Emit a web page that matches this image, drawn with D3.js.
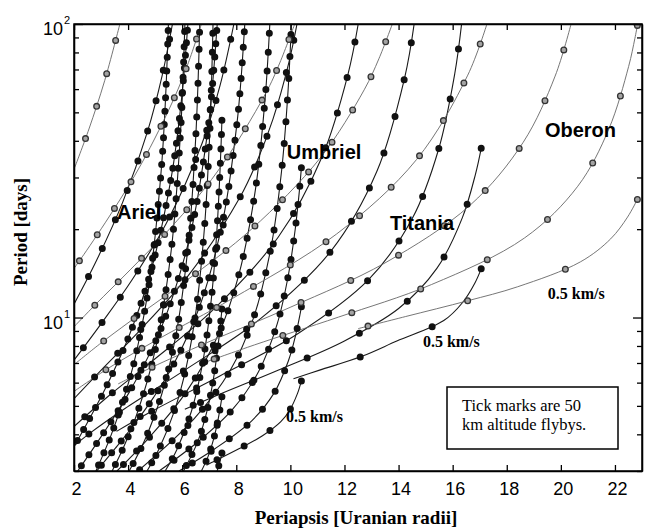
<!DOCTYPE html>
<html>
<head>
<meta charset="utf-8">
<script src="https://cdn.jsdelivr.net/npm/d3@7"></script>
<style>
  body { margin: 0; background: #fff; }
  .tick text { font-family: "Liberation Sans", Arial, Helvetica, sans-serif; font-size: 18px; fill: #000; }
  .axis path, .axis line { stroke: #000; stroke-width: 1.3; }
</style>
</head>
<body>
<svg id="chart"></svg>
<script>
// Flyby speeds (km/s), one curve per speed for every moon
var vInf = [0.5, 1, 1.5, 2, 2.5, 3, 3.5, 4];

// Axis ticks
var xTicks = [2, 4, 6, 8, 10, 12, 14, 16, 18, 20, 22];
var yMinor = [3, 4, 5, 6, 7, 8, 9, 20, 30, 40, 50, 60, 70, 80, 90];
var yMajor = [10, 100];

// Curves: [periapsis (Uranian radii), period (days)]
var ariel = [
  [[7.469, 3.455], [7.435, 3.342], [7.383, 3.193], [7.29, 3.0]],
  [[7.469, 5.368], [7.452, 5.238], [7.399, 4.884], [7.306, 4.393], [7.164, 3.859], [6.951, 3.352], [6.71, 3.0]],
  [[7.469, 10.70], [7.442, 10.05], [7.376, 8.761], [7.166, 6.269], [6.909, 4.769], [6.579, 3.785], [6.05, 3.0]],
  [[7.469, 47.0], [7.410, 33.42], [7.287, 20.03], [7.082, 11.67], [6.758, 7.018], [6.345, 4.804], [5.806, 3.551], [5.37, 3.0]],
  [[7.14, 100], [7.091, 65.99], [7.006, 39.83], [6.823, 20.22], [6.510, 10.52], [6.136, 6.685], [5.683, 4.722], [5.138, 3.561], [4.70, 3.0]],
  [[6.65, 100], [6.589, 64.42], [6.493, 39.82], [6.236, 18.19], [5.787, 8.903], [5.249, 5.498], [4.614, 3.820], [4.04, 3.0]],
  [[6.10, 100], [6.032, 65.85], [5.938, 42.65], [5.600, 17.12], [5.014, 7.837], [4.329, 4.701], [3.829, 3.609], [3.41, 3.0]],
  [[5.49, 100], [5.391, 57.52], [5.232, 32.36], [4.802, 13.44], [4.327, 7.751], [4.074, 6.256], [3.386, 4.006], [2.81, 3.0]]
];
var arielTicks = [1.4, 5.8, 13.5, 25, 24, 27, 30, 34];

var umbriel = [
  [[10.407, 6.083], [10.352, 5.839], [10.264, 5.515], [9.974, 4.831], [9.647, 4.420], [8.969, 3.956], [8.095, 3.571], [7.000, 3.176], [6.898, 3.141]],
  [[10.407, 10.88], [10.356, 10.24], [10.19, 8.671], [9.928, 7.122], [9.394, 5.525], [8.571, 4.447], [7.209, 3.572], [5.882, 3.0]],
  [[10.407, 32.40], [10.334, 27.09], [10.179, 19.99], [9.921, 13.88], [9.510, 9.497], [8.831, 6.563], [7.876, 4.880], [6.642, 3.811], [5.148, 3.0]],
  [[10.039, 100], [9.904, 57.32], [9.671, 31.39], [9.275, 17.16], [8.627, 9.909], [7.788, 6.635], [6.437, 4.512], [4.368, 3.0]],
  [[9.240, 100], [9.163, 74.87], [9.064, 55.47], [8.709, 27.31], [8.091, 13.95], [7.347, 8.786], [6.153, 5.579], [4.820, 3.939], [3.589, 3.0]],
  [[8.315, 100], [8.166, 63.23], [8.026, 45.95], [7.524, 21.89], [6.655, 10.97], [5.655, 6.849], [4.942, 5.345], [4.224, 4.321], [3.531, 3.587], [2.838, 3.0]],
  [[7.295, 100], [7.110, 60.40], [6.931, 42.28], [6.290, 18.98], [5.222, 9.201], [4.087, 5.658], [2.998, 3.921], [2.137, 3.0]],
  [[6.211, 100], [5.966, 54.40], [5.604, 30.31], [4.842, 14.35], [4.052, 8.736], [3.273, 6.020], [2.543, 4.468], [2.015, 3.651]]
];
var umbrielTicks = [4.4, 9.7, 19, 22.6, 26, 31, 36, 35];

var titania = [
  [[17.055, 14.65], [16.818, 13.09], [16.360, 11.23], [15.671, 9.765], [13.935, 8.317], [12.618, 7.361], [11.081, 6.618], [10.114, 6.189]],
  [[17.055, 37.72], [16.842, 30.76], [16.359, 21.89], [15.415, 14.70], [14.002, 10.73], [11.945, 8.274], [9.565, 6.631], [7.363, 5.468], [6.097, 4.868]],
  [[16.330, 100], [16.077, 67.70], [15.480, 37.43], [14.510, 21.77], [12.889, 13.45], [10.244, 8.768], [7.344, 6.289], [4.876, 4.792], [3.573, 4.094]],
  [[14.576, 100], [14.224, 65.57], [13.195, 31.44], [11.499, 16.84], [8.885, 9.890], [6.167, 6.683], [3.885, 4.899], [2.616, 4.054], [2.0, 3.655]],
  [[12.508, 100], [12.129, 67.38], [11.175, 35.38], [9.554, 18.81], [7.170, 10.68], [4.877, 7.088], [3.244, 5.370], [2.0, 4.25]],
  [[10.245, 100], [9.941, 73.73], [9.356, 47.43], [8.750, 33.75], [8.126, 25.58], [6.210, 13.83], [4.393, 8.957], [3.130, 6.803], [2.0, 5.29]],
  [[7.911, 100], [7.403, 61.89], [6.736, 39.24], [5.404, 20.86], [4.136, 13.39], [3.000, 9.516], [2.0, 7.15]],
  [[5.640, 100], [5.259, 66.75], [4.716, 42.98], [3.802, 24.73], [2.845, 15.73], [2.0, 11.1]]
];
var titaniaTicks = [2.9, 7.3, 11.3, 15, 13.9, 13.4, 12, 9.5];

var oberon = [
  [[22.83, 25.26], [22.466, 21.99], [21.84, 18.53], [20.721, 15.47], [18.403, 12.73], [16.55, 11.40], [14.264, 10.08], [12.506, 9.166]],
  [[22.83, 98.9], [22.735, 89.14], [22.506, 71.66], [21.774, 43.87], [20.626, 28.01], [18.658, 18.67], [15.215, 12.95], [11.773, 10.03], [8.672, 8.066], [6.935, 7.086]],
  [[20.378, 100], [19.788, 66.45], [18.607, 39.52], [16.640, 24.11], [13.500, 15.35], [10.019, 10.86], [6.892, 8.195], [4.867, 6.762], [3.632, 5.940]],
  [[17.267, 100], [16.558, 66.95], [14.665, 34.53], [11.710, 19.26], [7.843, 11.59], [5.172, 8.500], [3.285, 6.732], [2.0, 5.60]],
  [[13.770, 100], [13.273, 76.16], [12.730, 59.69], [11.105, 34.97], [8.570, 20.03], [6.153, 13.36], [4.080, 9.712], [2.943, 8.111], [2.0, 6.906]],
  [[10.160, 100], [9.607, 73.67], [9.071, 57.66], [7.291, 31.32], [5.596, 20.32], [4.075, 14.53], [2.784, 11.05], [2.0, 9.3]],
  [[6.710, 100], [6.229, 73.82], [5.694, 55.65], [4.507, 33.58], [3.429, 23.02], [2.364, 16.39], [2.0, 14.7]],
  [[3.696, 100], [3.134, 64.11], [2.553, 43.89], [2.026, 32.44]]
];
var oberonTicks = [3.1, 8.1, 11.2, 13.4, 12.5, 11.4, 8.8, 4.4];

var moonNames = ["Ariel", "Umbriel", "Titania", "Oberon"];
var speedText = vInf[0] + " km/s";
var noteLines = ["Tick marks are 50", "km altitude flybys."];

// Canvas
var width = 655;
var height = 531;
var sans = '"Liberation Sans", Arial, Helvetica, sans-serif';
var serif = '"Liberation Serif", "Times New Roman", Times, serif';

var svg = d3.select("#chart").attr("width", width).attr("height", height);
svg.append("rect").attr("width", width).attr("height", height).attr("fill", "#fff");

// Scales
var x = d3.scaleLinear().domain([2, 23]).range([74, 642]);
var y = d3.scaleLog().domain([3, 100]).range([471, 24]);

svg.append("clipPath").attr("id", "plotClip").append("rect")
  .attr("x", x(2)).attr("y", y(100))
  .attr("width", x(23) - x(2)).attr("height", y(3) - y(100));

var families = [
  { curves: ariel, ticks: arielTicks, grey: false },
  { curves: umbriel, ticks: umbrielTicks, grey: false },
  { curves: titania, ticks: titaniaTicks, grey: false },
  { curves: oberon, ticks: oberonTicks, grey: true }
];

var line = d3.line()
  .x(function(d) { return x(d[0]); })
  .y(function(d) { return y(d[1]); })
  .curve(d3.curveCatmullRom.alpha(0.5));

var plot = svg.append("g").attr("clip-path", "url(#plotClip)");
var lineLayer = plot.append("g");
var dotLayer = plot.append("g");

// tick marks drawn as round dots along each curve
function dotRow(d, gap, off, w, color) {
  dotLayer.append("path")
    .attr("d", d)
    .attr("fill", "none")
    .attr("stroke", color)
    .attr("stroke-width", w)
    .attr("stroke-linecap", "round")
    .attr("stroke-dasharray", "0 " + gap)
    .attr("stroke-dashoffset", off);
}

families.forEach(function(f) {
  f.curves.forEach(function(pts, i) {
    var d = line(pts);
    var p = lineLayer.append("path")
      .attr("d", d)
      .attr("fill", "none")
      .attr("stroke", f.grey ? "#666" : "#1a1a1a")
      .attr("stroke-width", f.grey ? 0.9 : 1.1);
    var len = p.node().getTotalLength();
    var gap = len / f.ticks[i];
    // curves that enter from the top edge start half way between two marks
    var off = pts[0][1] >= 100 ? gap / 2 : 0;
    if (f.grey) {
      dotRow(d, gap, off, 7, "#333");
      dotRow(d, gap, off, 4.4, "#a3a3a3");
    } else {
      dotRow(d, gap, off, 7, "#111");
    }
  });
});

// Axes
var xBottom = d3.axisBottom(x).tickValues(xTicks).tickSize(-6).tickSizeOuter(0).tickPadding(11);
svg.append("g").attr("class", "axis")
  .attr("transform", "translate(0," + y(3) + ")")
  .call(xBottom);

var xTop = d3.axisTop(x).tickValues(xTicks).tickSize(-6).tickSizeOuter(0).tickFormat("");
svg.append("g").attr("class", "axis")
  .attr("transform", "translate(0," + y(100) + ")")
  .call(xTop);

[[d3.axisLeft, x(2)], [d3.axisRight, x(23)]].forEach(function(a) {
  svg.append("g").attr("class", "axis")
    .attr("transform", "translate(" + a[1] + ",0)")
    .call(a[0](y).tickValues(yMinor).tickSize(-5).tickSizeOuter(0).tickFormat(""));
  svg.append("g").attr("class", "axis")
    .attr("transform", "translate(" + a[1] + ",0)")
    .call(a[0](y).tickValues(yMajor).tickSize(-9).tickSizeOuter(0).tickFormat(""));
});

svg.selectAll(".axis .tick text").attr("dx", 2);

// Frame
svg.append("rect")
  .attr("x", x(2)).attr("y", y(100))
  .attr("width", x(23) - x(2)).attr("height", y(3) - y(100))
  .attr("fill", "none").attr("stroke", "#000").attr("stroke-width", 1.5);

// Log labels 10^1, 10^2
yMajor.forEach(function(v) {
  svg.append("text")
    .attr("x", x(2) - 11).attr("y", y(v) + 11)
    .attr("text-anchor", "end")
    .style("font-family", sans).style("font-size", "18px")
    .text("10");
  svg.append("text")
    .attr("x", x(2) - 10).attr("y", y(v) + 0)
    .style("font-family", sans).style("font-size", "11px")
    .text(String(Math.round(Math.log10(v))));
});

// Axis titles
svg.append("text")
  .attr("x", 356).attr("y", 524)
  .attr("text-anchor", "middle")
  .style("font-family", serif).style("font-size", "19px").style("font-weight", "bold")
  .text("Periapsis [Uranian radii]");

svg.append("text")
  .attr("transform", "translate(27,232) rotate(-90)")
  .attr("text-anchor", "middle")
  .style("font-family", serif).style("font-size", "19px").style("font-weight", "bold")
  .text("Period [days]");

// Moon names
var namePos = [[3.59, 21.6], [9.87, 34.8], [13.68, 19.9], [19.41, 41.1]];
moonNames.forEach(function(n, i) {
  svg.append("text")
    .attr("x", x(namePos[i][0])).attr("y", y(namePos[i][1]))
    .style("font-family", sans).style("font-size", "20px").style("font-weight", "bold")
    .text(n);
});

// Speed labels
[[19.52, 11.52], [14.90, 7.96], [9.84, 4.42]].forEach(function(p) {
  svg.append("text")
    .attr("x", x(p[0])).attr("y", y(p[1]))
    .style("font-family", serif).style("font-size", "16px").style("font-weight", "bold")
    .text(speedText);
});

// Note box
svg.append("rect")
  .attr("x", 447).attr("y", 387).attr("width", 171).attr("height", 62)
  .attr("fill", "#fff").attr("stroke", "#000").attr("stroke-width", 1.5);
noteLines.forEach(function(t, i) {
  svg.append("text")
    .attr("x", 462).attr("y", 411 + i * 19)
    .style("font-family", serif).style("font-size", "16.5px")
    .text(t);
});
</script>
</body>
</html>
